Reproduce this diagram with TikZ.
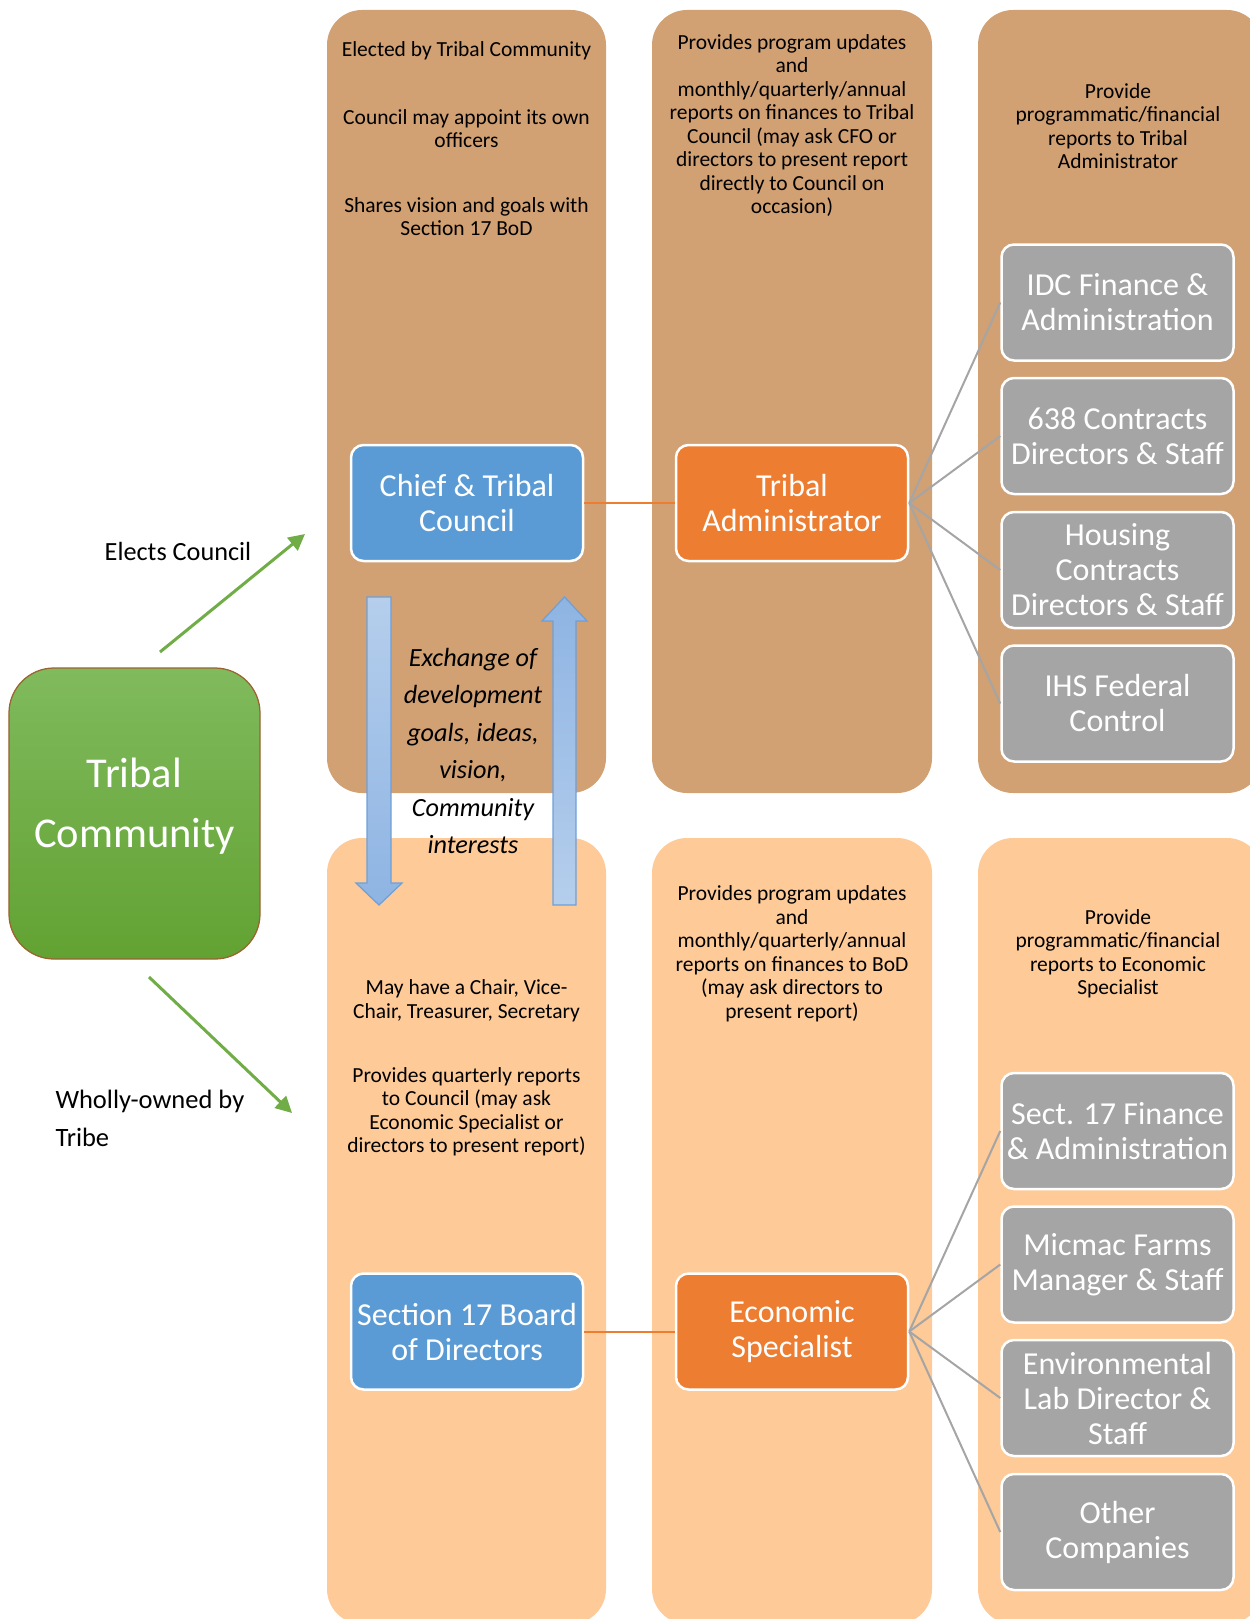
\documentclass[tikz,border=0pt]{standalone}
\usepackage{fontspec}
\setmainfont{Carlito}
\usetikzlibrary{arrows.meta}
\definecolor{panelTop}{HTML}{D1A073}
\definecolor{panelBot}{HTML}{FDCA98}
\definecolor{councilBlue}{HTML}{5B9BD5}
\definecolor{adminOrange}{HTML}{ED7D31}
\definecolor{staffGray}{HTML}{A5A5A5}
\definecolor{tribeGreen}{HTML}{70AD47}
\definecolor{tribeTop}{HTML}{80BA5D}
\definecolor{tribeBot}{HTML}{62A232}
\definecolor{tribeEdge}{HTML}{9C6230}
\definecolor{flowLight}{HTML}{B5CEEC}
\definecolor{flowDark}{HTML}{8EB4E3}
\definecolor{flowEdge}{HTML}{6F9FD8}
\tikzset{
 panel/.style={rounded corners=14pt},
 unitbox/.style={draw=white,line width=1pt,rounded corners=5pt,minimum width=92.8pt,minimum height=46.4pt,
  text=white,font=\fontsize{12.8}{14}\selectfont,align=center,inner sep=1pt},
 councilbox/.style={unitbox,fill=councilBlue},
 adminbox/.style={unitbox,fill=adminOrange},
 staffbox/.style={unitbox,fill=staffGray},
 note/.style={font=\fontsize{8.6}{9.4}\selectfont,align=center,inner sep=0pt},
 flowarrow/.style={draw=flowEdge,line width=0.5pt},
 greenarrow/.style={draw=tribeGreen,line width=1.2pt,-{Triangle[length=6.5pt,width=6.5pt]}},
 orangeline/.style={draw=adminOrange,line width=0.8pt},
 staffline/.style={draw=staffGray,line width=0.8pt},
}
\begin{document}
\begin{tikzpicture}[x=0.4pt,y=-0.4pt]
\useasboundingbox (0,0) rectangle (1250,1619);
\clip (0,0) rectangle (1250,1619);
% panels
\foreach\xl/\xr in {327/606,652/932,978/1262}{
 \fill[panel,panelTop] (\xl,10) rectangle (\xr,793);
 \fill[panel,panelBot] (\xl,838) rectangle (\xr,1624);
}
% panel notes
\node[note] (electedNote) at (466.5,51) {Elected by Tribal Community};
\node[note] (officersNote) at (466.5,128.5) {Council may appoint its own\\officers};
\node[note] (visionNote) at (466.5,216.5) {Shares vision and goals with\\Section 17 BoD};
\node[note] (adminNote) at (792,125.5) {Provides program updates\\and\\monthly/quarterly/annual\\reports on finances to Tribal\\Council (may ask CFO or\\directors to present report\\directly to Council on\\occasion)};
\node[note] (staffNote) at (1118,126) {Provide\\programmatic/financial\\reports to Tribal\\Administrator};
\node[note] (chairNote) at (466.5,1001) {May have a Chair, Vice-\\Chair, Treasurer, Secretary};
\node[note] (quarterNote) at (466.5,1112) {Provides quarterly reports\\to Council (may ask\\Economic Specialist or\\directors to present report)};
\node[note] (econNote) at (792,954) {Provides program updates\\and\\monthly/quarterly/annual\\reports on finances to BoD\\(may ask directors to\\present report)};
\node[note] (companyNote) at (1118,954) {Provide\\programmatic/financial\\reports to Economic\\Specialist};
% main units
\node[councilbox] (council) at (467,503) {Chief \& Tribal\\Council};
\node[adminbox] (admin) at (792,503) {Tribal\\Administrator};
\node[councilbox] (board) at (467,1331.5) {Section 17 Board\\of Directors};
\node[adminbox] (econ) at (792,1331.5) {Economic\\Specialist};
\foreach\nm/\yy/\txt in {idc/302.5/{IDC Finance \&\\Administration},contracts/436/{638 Contracts\\Directors \& Staff},
 housing/570/{Housing\\Contracts\\Directors \& Staff},ihs/703.5/{IHS Federal\\Control},
 sectfin/1131/{Sect. 17 Finance\\\& Administration},farms/1264.5/{Micmac Farms\\Manager \& Staff},
 envlab/1398/{Environmental\\Lab Director \&\\Staff},othercos/1532/{Other\\Companies}}{
 \node[staffbox] (\nm) at (1117.5,\yy) {\txt};
}
\draw[orangeline] (council.east) -- (admin.west);
\draw[orangeline] (board.east) -- (econ.west);
\foreach\nm in {idc,contracts,housing,ihs}{
 \draw[staffline] (admin.east) -- (\nm.west);
}
\foreach\nm in {sectfin,farms,envlab,othercos}{
 \draw[staffline] (econ.east) -- (\nm.west);
}
% exchange arrows
\draw[flowarrow,top color=flowLight,bottom color=flowDark] (367,597) -- (391,597) -- (391,883) -- (402,883)
 -- (379,905) -- (356,883) -- (367,883) -- cycle;
\draw[flowarrow,top color=flowDark,bottom color=flowLight] (553,905) -- (576,905) -- (576,621) -- (587,621)
 -- (564.5,597) -- (542,621) -- (553,621) -- cycle;
\node[font=\fontsize{10.5}{15}\selectfont\itshape,align=center,inner sep=0pt] (exchange) at (473,751)
 {Exchange of\\development\\goals, ideas,\\vision,\\Community\\interests};
% tribal community
\node[draw=tribeEdge,line width=0.5pt,top color=tribeTop,bottom color=tribeBot,rounded corners=18pt,
 minimum width=100.4pt,minimum height=116.4pt] (tribe) at (134.5,813.5) {};
\node[text=white,align=center,font=\fontsize{17}{24}\selectfont,inner sep=0pt] (tribeText)
 at ([yshift=2.9pt]tribe.center) {Tribal\\Community};
\coordinate (electsStart) at (160,652);
\coordinate (electsEnd) at (305,534);
\coordinate (ownedStart) at (149,977);
\coordinate (ownedEnd) at (292,1113);
\draw[greenarrow] (electsStart) -- (electsEnd);
\draw[greenarrow] (ownedStart) -- (ownedEnd);
\node[font=\fontsize{10.5}{15}\selectfont,inner sep=0pt] (electsLabel) at (178,551) {Elects Council};
\node[font=\fontsize{10.6}{15.2}\selectfont,align=left,anchor=west,inner sep=0pt] (ownedLabel) at (55,1118)
 {Wholly-owned by\\Tribe};
\end{tikzpicture}
\end{document}
